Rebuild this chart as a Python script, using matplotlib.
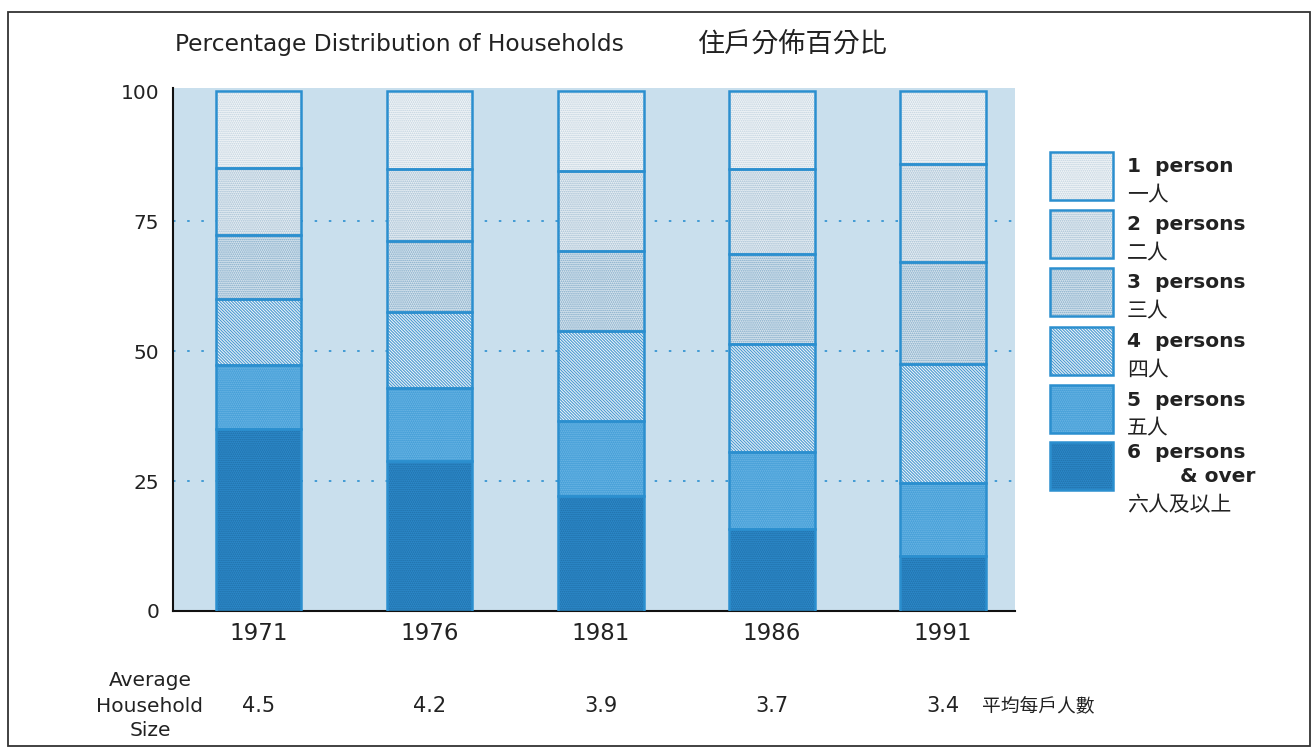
import matplotlib
matplotlib.use("Agg")
import matplotlib.pyplot as plt
from matplotlib.patches import Rectangle
import numpy as np

# ---------------- data ----------------
years = ["1971", "1976", "1981", "1986", "1991"]
avg_size = ["4.5", "4.2", "3.9", "3.7", "3.4"]
# stacked from bottom: 6+ , 5, 4, 3, 2, 1 persons (percent)
p6 = [35.0, 28.9, 22.2, 15.7, 10.5]
p5 = [12.4, 13.9, 14.3, 14.9, 14.2]
p4 = [12.6, 14.8, 17.4, 20.8, 22.9]
p3 = [12.3, 13.5, 15.3, 17.2, 19.5]
p2 = [13.0, 14.0, 15.5, 16.5, 18.8]
p1 = [14.7, 14.9, 15.3, 14.9, 14.1]
series_en = ["6  persons", "5  persons", "4  persons", "3  persons", "2  persons", "1  person"]
series_en2 = ["& over", "", "", "", "", ""]
series_zh = ["六人及以上", "五人", "四人", "三人", "二人", "一人"]
yticks = [0, 25, 50, 75, 100]
title_en = "Percentage Distribution of Households"
title_zh = "住戶分佈百分比"
size_label = "Average\nHousehold\nSize"
size_label_zh = "平均每戶人數"

# ---------------- style ----------------
W, H = 1313, 749
plt.rcParams['hatch.linewidth'] = 0.8
EN = "DejaVu Sans"
ZH = "Noto Sans CJK TC"
TXT = "#222222"
BG = "#c9dfed"
LINE = "#2b8fcf"
styles = [  # face, hatch, hatch colour
    ("#2c89ca", "........", "#1f6ea6"),
    ("#459fd8", "........", "#72b9e6"),
    ("#f2f6f9", "\\" * 11, "#4a9ad2"),
    ("#d8e5ee", "........", "#7aa6c6"),
    ("#e7eef3", "........", "#9ebbd1"),
    ("#f3f6f8", "........", "#bccfdd"),
]

fig = plt.figure(figsize=(W / 100, H / 100), dpi=100)
fig.patch.set_facecolor("white")


def fx(px):
    return px / W


def fy(py):
    return 1 - py / H


ax = fig.add_axes([fx(173), fy(611), fx(1015) - fx(173), fy(88) - fy(611)])
ax.set_facecolor(BG)
x = np.arange(len(years))
data = [p6, p5, p4, p3, p2, p1]
bottom = np.zeros(len(years))
for vals, (fc, hat, hc) in zip(data, styles):
    ax.bar(x, vals, bottom=bottom, width=0.5, color=fc, hatch=hat,
           edgecolor=hc, linewidth=0, zorder=2)
    ax.bar(x, vals, bottom=bottom, width=0.5, fill=False,
           edgecolor=LINE, linewidth=1.8, zorder=3)
    bottom = bottom + np.array(vals)

for g in yticks[1:-1]:
    ax.axhline(g, color=LINE, linestyle=(0, (1.5, 7)), linewidth=1.2, zorder=1)

ax.set_xlim(-0.5, 4.42)
ax.set_ylim(0, 100.6)
ax.set_yticks(yticks)
ax.set_yticklabels([str(v) for v in yticks], fontsize=14.5, color=TXT, family=EN)
ax.set_xticks(x)
ax.set_xticklabels(years, fontsize=16.5, color=TXT, family=EN)
ax.tick_params(axis="both", length=0)
ax.tick_params(axis="y", pad=10)
ax.tick_params(axis="x", pad=8)
for s in ["top", "right"]:
    ax.spines[s].set_visible(False)
for s in ["left", "bottom"]:
    ax.spines[s].set_color("#111111")
    ax.spines[s].set_linewidth(1.5)

# title
fig.text(fx(175), fy(45), title_en, fontsize=16.8, color=TXT, family=EN, va="center", ha="left")
fig.text(fx(697), fy(44), title_zh, fontsize=19.5, color=TXT, family=ZH, va="center", ha="left")

# legend
tops = [442, 385, 327, 268, 210, 152]
for (fc, hat, hc), lab_en, lab_en2, lab_zh, t in zip(styles, series_en, series_en2, series_zh, tops):
    fig.add_artist(Rectangle((fx(1050), fy(t + 48)), fx(1113) - fx(1050), fy(t) - fy(t + 48),
                             transform=fig.transFigure, facecolor=fc, hatch=hat,
                             edgecolor=hc, linewidth=0))
    fig.add_artist(Rectangle((fx(1050), fy(t + 48)), fx(1113) - fx(1050), fy(t) - fy(t + 48),
                             transform=fig.transFigure, fill=False,
                             edgecolor=LINE, linewidth=1.8))
    if lab_en2:
        fig.text(fx(1127), fy(t + 11), lab_en, fontsize=14.5, color=TXT, family=EN,
                 va="center", ha="left", fontweight="semibold")
        fig.text(fx(1255), fy(t + 35), lab_en2, fontsize=14.5, color=TXT, family=EN,
                 va="center", ha="right", fontweight="semibold")
        fig.text(fx(1127), fy(t + 63), lab_zh, fontsize=15, color=TXT, family=ZH,
                 va="center", ha="left")
    else:
        fig.text(fx(1127), fy(t + 15), lab_en, fontsize=14.5, color=TXT, family=EN,
                 va="center", ha="left", fontweight="semibold")
        fig.text(fx(1127), fy(t + 43), lab_zh, fontsize=15, color=TXT, family=ZH,
                 va="center", ha="left")

# average household size row
fig.text(fx(150), fy(706), size_label, fontsize=14.5, color=TXT, family=EN,
         va="center", ha="center", linespacing=1.4)
xd = ax.transData
for i, v in enumerate(avg_size):
    px = xd.transform((x[i], 0))[0]
    fig.text(px / W, fy(706), v, fontsize=15, color=TXT, family=EN,
             va="center", ha="center")
fig.text(fx(982), fy(706), size_label_zh, fontsize=13.5, color=TXT, family=ZH,
         va="center", ha="left")

# outer frame
fig.add_artist(Rectangle((fx(8), fy(746)), fx(1310) - fx(8), fy(12) - fy(746),
                         transform=fig.transFigure, fill=False,
                         edgecolor="#333333", linewidth=1.3))

fig.savefig("out.png", dpi=100)
